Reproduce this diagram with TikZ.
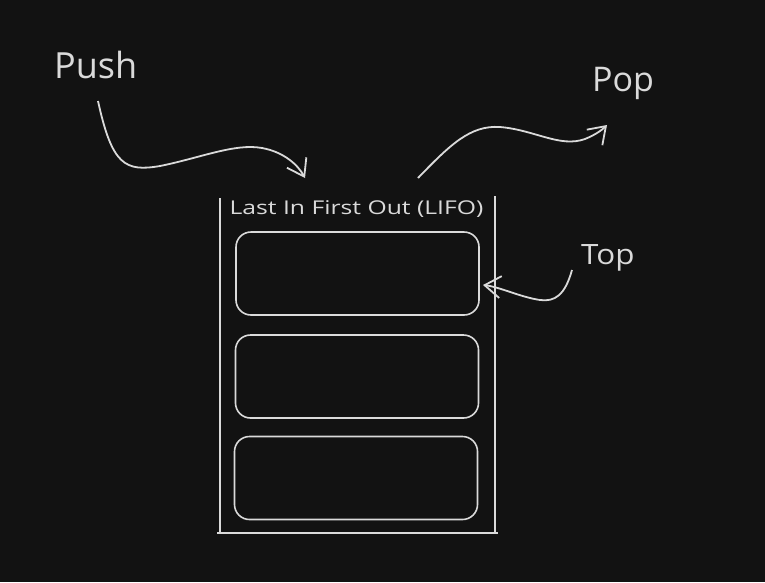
\documentclass[tikz,border=0pt]{standalone}
\usepackage{fontspec}
\setmainfont{Open Sans}
\usetikzlibrary{arrows.meta}
\definecolor{bg}{HTML}{121212}
\definecolor{ink}{HTML}{DADADA}
\begin{document}
\begin{tikzpicture}[x=1pt,y=-1pt,
  slot/.style={draw=ink, line width=1.6pt, rounded corners=15pt, minimum width=243pt, minimum height=83pt, inner sep=0pt},
  wall/.style={draw=ink, line width=2pt},
  label/.style={text=ink, inner sep=0pt},
  flow/.style={draw=ink, line width=1.8pt, -{Straight Barb[length=16pt,width=22pt,line width=1.8pt]}}]
\fill[bg] (0,0) rectangle (765,582);
\useasboundingbox (0,0) rectangle (765,582);
% container walls
\coordinate (tl) at (220,198);
\coordinate (bl) at (220,533);
\coordinate (tr) at (495,196);
\coordinate (br) at (495,533);
\draw[wall] (tl) -- (bl);
\draw[wall] (tr) -- (br);
\draw[wall] ([xshift=-3pt]bl) -- ([xshift=3pt]br);
% title
\node[label, anchor=base, font=\fontsize{19}{22}\selectfont] (title) at (356.5,214) {\scalebox{1.3}[1]{Last In First Out (LIFO)}};
% slots
\node[slot] (s1) at (357.5,273.5) {};
\node[slot] (s2) at (357,376.5) {};
\node[slot] (s3) at (356,478) {};
% labels
\node[label, anchor=base west, font=\fontsize{36}{40}\selectfont] (push) at (54,78) {Push};
\node[label, anchor=base west, font=\fontsize{34}{40}\selectfont] (pop) at (592,91) {Pop};
\node[label, anchor=base west, font=\fontsize{28}{30}\selectfont] (top) at (581,264) {\scalebox{1.12}[1]{Top}};
% arrow end points
\coordinate (pushstart) at (98,101);
\coordinate (pushend) at (305,178);
\coordinate (popstart) at (418,178);
\coordinate (popend) at (607,125);
\coordinate (topstart) at (572,270);
\coordinate (topend) at (483,285);
% arrows
\draw[flow] (pushstart) .. controls (112,165) and (125,172) .. (160,166)
  .. controls (200,158) and (235,143) .. (262,148)
  .. controls (284,152) and (298,165) .. (pushend);
\draw[flow] (popstart) .. controls (450,145) and (470,125) .. (500,127)
  .. controls (535,130) and (560,148) .. (585,139)
  .. controls (595,135) and (602,130) .. (popend);
\draw[flow] (topstart) .. controls (565,295) and (555,302) .. (540,300)
  .. controls (520,297) and (500,287) .. (topend);
\end{tikzpicture}
\end{document}
